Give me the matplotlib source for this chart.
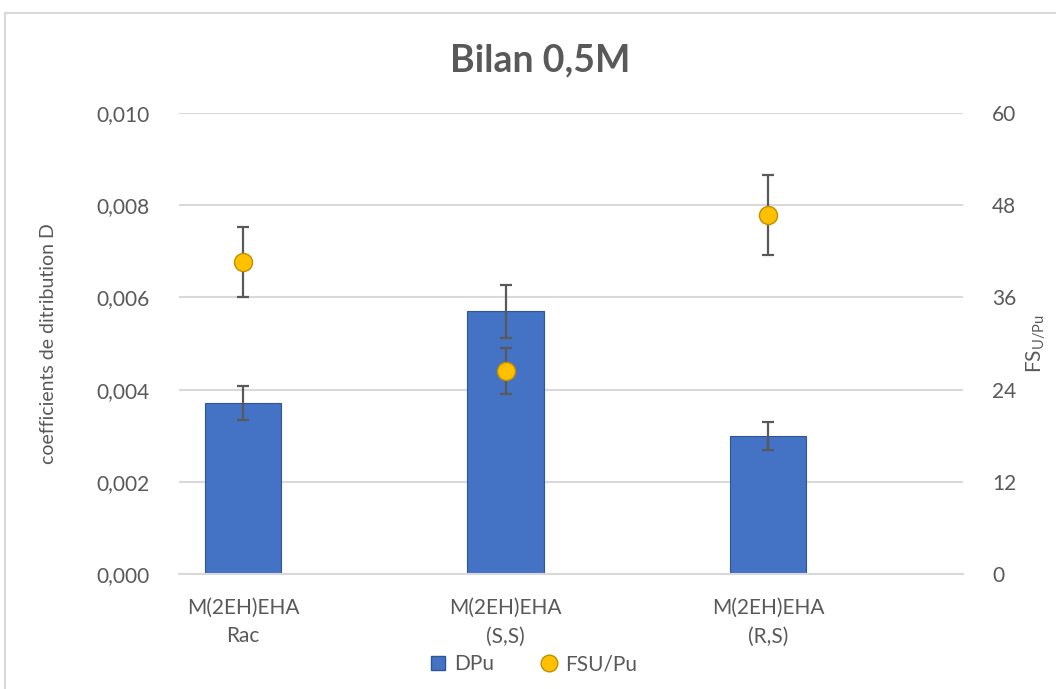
import numpy as np
import matplotlib.pyplot as plt
from matplotlib.lines import Line2D
from matplotlib.ticker import FuncFormatter

plt.rcParams['font.family'] = ['Lato', 'DejaVu Sans']
plt.rcParams['mathtext.fontset'] = 'custom'
plt.rcParams['mathtext.rm'] = 'Lato'

# data
categories = ['M(2EH)EHA\nRac', 'M(2EH)EHA\n(S,S)', 'M(2EH)EHA\n(R,S)']
d_pu = [0.0037, 0.0057, 0.0030]
d_pu_err = [0.00037, 0.00057, 0.00030]
fs_u_pu = [40.6, 26.4, 46.7]
fs_err = [4.5, 3.0, 5.2]

grey = '#595959'
grid = '#D9D9D9'

fig = plt.figure(figsize=(10.56, 6.89), dpi=100)
ax = fig.add_axes([0.1695, 0.1669, 0.7425, 0.6691])
x = np.arange(len(categories))

ax.bar(x, d_pu, width=0.29, color='#4472C4', edgecolor='#2F5597',
       linewidth=0.8, zorder=2)
ax.errorbar(x, d_pu, yerr=d_pu_err, fmt='none', ecolor=grey,
            elinewidth=1.6, capsize=4.5, capthick=1.6, zorder=3)

ax.set_xlim(-0.244, 2.743)
ax.set_ylim(0, 0.010)
ax.set_yticks(np.arange(0, 0.0101, 0.002))
ax.yaxis.set_major_formatter(FuncFormatter(lambda v, p: f'{v:.3f}'.replace('.', ',')))
ax.set_xticks(x)
ax.set_xticklabels(categories, linespacing=1.55)
ax.grid(axis='y', color=grid, linewidth=1.5, zorder=0)
ax.set_axisbelow(True)
for s in ['top', 'left', 'right']:
    ax.spines[s].set_visible(False)
ax.spines['bottom'].set_color(grid)
ax.spines['bottom'].set_linewidth(1.5)
ax.tick_params(axis='both', length=0, labelsize=15, labelcolor=grey)
ax.tick_params(axis='y', pad=21)
ax.tick_params(axis='x', pad=17)
ax.set_ylabel('coefficients de ditribution D', fontsize=14, color=grey)
ax.yaxis.set_label_coords(-0.156, 0.5)

ax2 = ax.twinx()
ax2.set_ylim(0, 60)
ax2.set_yticks(np.arange(0, 61, 12))
ax2.errorbar(x, fs_u_pu, yerr=fs_err, fmt='o', color='#FFC000',
             markeredgecolor='#BF9000', markersize=13, ecolor=grey,
             elinewidth=1.6, capsize=4.5, capthick=1.6, zorder=3)
for s in ['top', 'left', 'right', 'bottom']:
    ax2.spines[s].set_visible(False)
ax2.tick_params(axis='y', length=0, labelsize=15, labelcolor=grey, pad=21)
ax2.set_ylabel(r'FS$_{\mathrm{U/Pu}}$', fontsize=15, color=grey)
ax2.yaxis.set_label_coords(1.078, 0.5)

fig.text(0.512, 0.912, 'Bilan 0,5M', ha='center', va='center',
         fontsize=27, fontweight='bold', color=grey)

handles = [Line2D([], [], marker='s', linestyle='none', color='#4472C4',
                  markeredgecolor='#2F5597', markersize=10),
           Line2D([], [], marker='o', linestyle='none', color='#FFC000',
                  markeredgecolor='#BF9000', markersize=12)]
fig.legend(handles, ['DPu', 'FSU/Pu'], loc='center', bbox_to_anchor=(0.505, 0.036),
           ncol=2, frameon=False, fontsize=15, labelcolor=grey,
           handlelength=0.8, handletextpad=0.4, columnspacing=2.2)

# chart border
fig.add_artist(Line2D([5/1056, 5/1056], [0, 1 - 13/689], color=grid, linewidth=1.5))
fig.add_artist(Line2D([5/1056, 1], [1 - 13/689, 1 - 13/689], color=grid, linewidth=1.5))

plt.savefig('out.png', dpi=100)
